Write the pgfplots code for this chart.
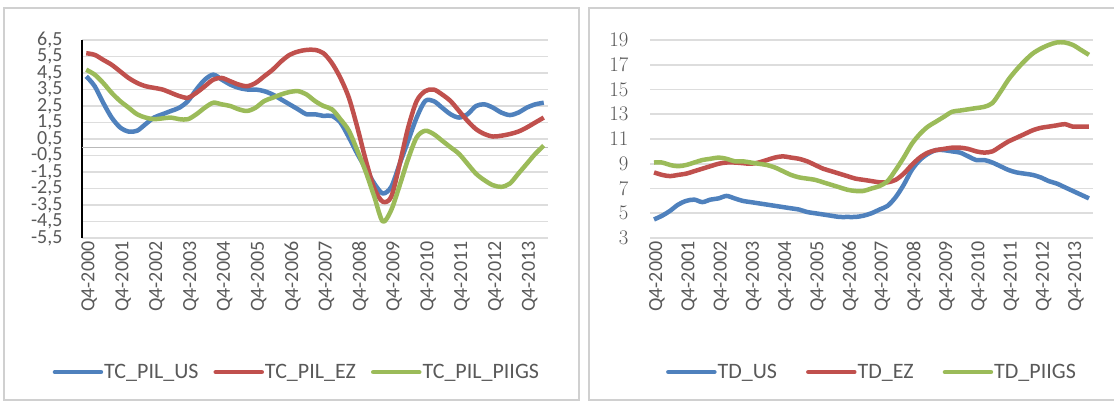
\documentclass[border=0pt]{standalone}
\usepackage{pgfplots}
\pgfplotsset{compat=1.18}
\usepackage{pgfplotstable}
\usepackage{fontspec}
\setmainfont{Carlito}
\definecolor{cBlue}{HTML}{4F81BD}
\definecolor{cRed}{HTML}{C0504D}
\definecolor{cGreen}{HTML}{9BBB59}
\definecolor{cText}{HTML}{595959}
\definecolor{cGrid}{HTML}{DDDDDD}
\definecolor{cBorder}{HTML}{D0D0D0}

\pgfplotstableread{
t US EZ PIIGS
0 4.3 5.7 4.7
1 3.7 5.6 4.4
2 2.7 5.3 3.9
3 1.8 5.0 3.3
4 1.2 4.6 2.8
5 0.95 4.2 2.4
6 1.0 3.9 2.0
7 1.4 3.7 1.8
8 1.8 3.6 1.7
9 2.0 3.5 1.75
10 2.2 3.3 1.8
11 2.4 3.1 1.7
12 2.8 3.0 1.7
13 3.5 3.3 2.0
14 4.1 3.7 2.4
15 4.4 4.1 2.7
16 4.1 4.2 2.6
17 3.8 4.0 2.5
18 3.6 3.8 2.3
19 3.5 3.7 2.2
20 3.5 3.9 2.4
21 3.4 4.3 2.8
22 3.2 4.7 3.0
23 2.9 5.2 3.2
24 2.6 5.6 3.35
25 2.3 5.8 3.4
26 2.0 5.9 3.2
27 2.0 5.9 2.8
28 1.9 5.7 2.5
29 1.9 5.1 2.3
30 1.5 4.2 1.7
31 0.6 3.0 1.0
32 -0.4 1.2 -0.2
33 -1.3 -0.8 -1.5
34 -2.2 -2.5 -3.0
35 -2.8 -3.3 -4.5
36 -2.4 -3.0 -3.8
37 -1.0 -1.0 -2.3
38 0.4 1.2 -0.7
39 1.8 2.8 0.6
40 2.8 3.4 1.0
41 2.8 3.5 0.8
42 2.4 3.2 0.4
43 2.0 2.8 0.0
44 1.8 2.2 -0.4
45 2.0 1.6 -1.0
46 2.5 1.1 -1.6
47 2.6 0.8 -2.0
48 2.4 0.65 -2.3
49 2.1 0.7 -2.4
50 1.95 0.8 -2.2
51 2.1 0.95 -1.6
52 2.4 1.2 -1.0
53 2.6 1.5 -0.4
54 2.7 1.8 0.1
}\pil

\pgfplotstableread{
t US EZ PIIGS
0 4.5 8.3 9.1
1 4.8 8.1 9.1
2 5.2 8.0 8.9
3 5.7 8.1 8.8
4 6.0 8.2 8.9
5 6.1 8.4 9.1
6 5.9 8.6 9.3
7 6.1 8.8 9.4
8 6.2 9.0 9.5
9 6.4 9.1 9.4
10 6.2 9.1 9.2
11 6.0 9.05 9.2
12 5.9 9.0 9.1
13 5.8 9.1 9.0
14 5.7 9.3 8.9
15 5.6 9.5 8.7
16 5.5 9.6 8.4
17 5.4 9.5 8.1
18 5.3 9.4 7.9
19 5.1 9.2 7.8
20 5.0 8.9 7.7
21 4.9 8.6 7.5
22 4.8 8.4 7.3
23 4.7 8.2 7.1
24 4.7 8.0 6.9
25 4.7 7.8 6.8
26 4.8 7.7 6.8
27 5.0 7.6 7.0
28 5.3 7.5 7.2
29 5.6 7.5 7.6
30 6.3 7.7 8.5
31 7.3 8.2 9.5
32 8.5 8.9 10.6
33 9.3 9.5 11.4
34 9.8 9.9 12.0
35 10.1 10.1 12.4
36 10.1 10.2 12.8
37 10.0 10.3 13.2
38 9.9 10.3 13.3
39 9.6 10.2 13.4
40 9.3 10.0 13.5
41 9.3 9.9 13.6
42 9.1 10.0 13.9
43 8.8 10.4 14.8
44 8.5 10.8 15.8
45 8.3 11.1 16.6
46 8.2 11.4 17.3
47 8.1 11.7 17.9
48 7.9 11.9 18.3
49 7.6 12.0 18.6
50 7.4 12.1 18.8
51 7.1 12.2 18.8
52 6.8 12.0 18.6
53 6.5 12.0 18.2
54 6.2 12.0 17.8
}\td

\pgfplotsset{
  panel/.style={
    scale only axis,
    height=198pt,
    xmin=-0.5, xmax=54.5,
    xtick={0,4,...,52},
    xticklabels={Q4-2000,Q4-2001,Q4-2002,Q4-2003,Q4-2004,Q4-2005,Q4-2006,Q4-2007,Q4-2008,Q4-2009,Q4-2010,Q4-2011,Q4-2012,Q4-2013},
    x tick label style={rotate=90, anchor=east, font=\fontsize{20}{20}\selectfont, text=cText, yshift=-3pt},
    y tick label style={font=\fontsize{20}{20}\selectfont, text=cText},
    major tick length=0pt,
    ymajorgrids,
    grid style={cGrid, line width=1.8pt},
    x axis line style={draw=none},
    legend columns=3,
    legend style={draw=none, fill=none, font=\fontsize{22}{22}\selectfont, text=cText,
      anchor=center, nodes={inner sep=1pt}},
    legend image code/.code={\draw[##1, line width=4.5pt, line cap=round] (0pt,0pt) -- (46pt,0pt);},
    every axis plot/.append style={line width=4.5pt, smooth, line join=round},
  }
}

\begin{document}
\begin{tikzpicture}[x=1pt,y=1pt]
\draw[cBorder, line width=1.5pt] (4,5) rectangle (579,397);
\draw[cBorder, line width=1.5pt] (589,5) rectangle (1120,397);

\begin{axis}[panel,
  at={(82pt,167pt)}, anchor=south west,
  width=466pt,
  ymin=-5.5, ymax=6.5,
  ytick={-5.5,-4.5,...,6.5},
  yticklabels={{-5,5},{-4,5},{-3,5},{-2,5},{-1,5},{-0,5},{0,5},{1,5},{2,5},{3,5},{4,5},{5,5},{6,5}},
  y tick label style={xshift=-16pt},
  axis y line*=left,
  y axis line style={black, line width=1.2pt},
  extra y ticks={0}, extra y tick labels={},
  extra y tick style={grid style={gray!55, line width=1.5pt}},
  legend style={at={(0.46,-0.677)}, /tikz/every even column/.append style={column sep=14pt}},
]
\addplot[cBlue] table[x=t,y=US] {\pil};
\addplot[cRed] table[x=t,y=EZ] {\pil};
\addplot[cGreen] table[x=t,y=PIIGS] {\pil};
\legend{TC\_PIL\_US,TC\_PIL\_EZ,TC\_PIL\_PIIGS}
\end{axis}

\begin{axis}[panel,
  at={(650pt,167pt)}, anchor=south west,
  width=443pt,
  ymin=3, ymax=19,
  ytick={3,5,...,19},
  y tick label style={xshift=-18pt},
  y axis line style={draw=none},
  legend style={at={(0.5,-0.677)}, /tikz/every even column/.append style={column sep=28pt}},
]
\addplot[cBlue] table[x=t,y=US] {\td};
\addplot[cRed] table[x=t,y=EZ] {\td};
\addplot[cGreen] table[x=t,y=PIIGS] {\td};
\legend{TD\_US,TD\_EZ,TD\_PIIGS}
\end{axis}

\pgfresetboundingbox
\path (0,0) rectangle (1114,405);
\end{tikzpicture}
\end{document}
